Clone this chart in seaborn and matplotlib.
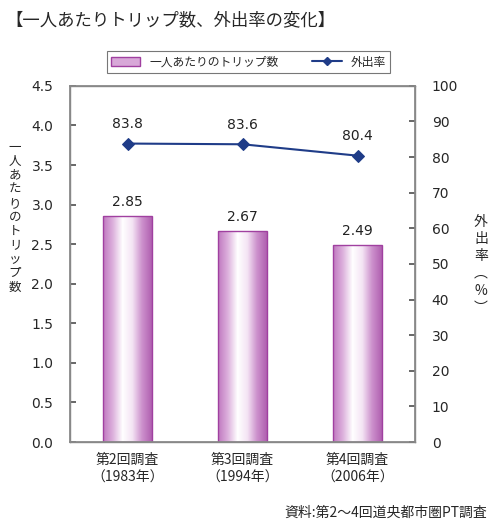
import numpy as np
import pandas as pd
import matplotlib
matplotlib.use("Agg")
import matplotlib.pyplot as plt
from matplotlib.colors import LinearSegmentedColormap
from matplotlib.lines import Line2D
from matplotlib.patches import Rectangle
import seaborn as sns

# ---------- data ----------
surveys = ["第2回調査\n（1983年）", "第3回調査\n（1994年）", "第4回調査\n（2006年）"]
trips = [2.85, 2.67, 2.49]
outing_rate = [83.8, 83.6, 80.4]

left_ticks = [0.0, 0.5, 1.0, 1.5, 2.0, 2.5, 3.0, 3.5, 4.0, 4.5]
right_ticks = [0, 10, 20, 30, 40, 50, 60, 70, 80, 90, 100]

sns.set_theme(style="white")
plt.rcParams["font.family"] = ["Noto Sans CJK JP", "DejaVu Sans"]

df = pd.DataFrame({"survey": surveys, "trips": trips, "rate": outing_rate})

fig = plt.figure(figsize=(5.0, 5.3), dpi=100)
ax = fig.add_axes([0.14, 0.166, 0.69, 0.672])

sns.barplot(data=df, x="survey", y="trips", ax=ax, width=0.42,
            color="white", edgecolor="#A040A0", linewidth=1.0, zorder=2)

# gradient fill inside each bar
cmap = LinearSegmentedColormap.from_list(
    "bar", ["#C078C0", "#DCB0DC", "#FFFFFF", "#F4E4F4", "#CC90CC", "#B060B0"])
grad = np.linspace(0, 1, 256).reshape(1, -1)
for patch in ax.patches:
    x0, y0 = patch.get_x(), patch.get_y()
    w, h = patch.get_width(), patch.get_height()
    im = ax.imshow(grad, cmap=cmap, aspect="auto", extent=[x0, x0 + w, y0, y0 + h],
                   zorder=1.5)
    im.set_clip_path(patch)
    patch.set_facecolor("none")
    patch.set_zorder(3)
    ax.text(x0 + w / 2, h + 0.09, f"{h:.2f}", ha="center", va="bottom",
            fontsize=10, color="#222222", family="DejaVu Sans")

ax.set_xlim(-0.5, 2.5)
ax.set_ylim(0, 4.5)
ax.set_yticks(left_ticks)
ax.set_yticklabels([f"{t:.1f}" for t in left_ticks], fontsize=10, family="DejaVu Sans")
ax.set_xlabel("")
ax.set_ylabel("")
ax.set_xticks([0, 1, 2])
ax.set_xticklabels(surveys, fontsize=10, linespacing=1.3)
ax.set_xticks([0.5, 1.5], minor=True)
ax.tick_params(axis="x", which="major", length=0, pad=8)
ax.tick_params(axis="x", which="minor", direction="in", length=3, color="#555555")
ax.tick_params(axis="y", direction="in", length=4, left=True, color="#555555", pad=12)
for s in ax.spines.values():
    s.set_color("#888888")
    s.set_linewidth(1.0)

ax2 = ax.twinx()
sns.lineplot(x=[0, 1, 2], y=outing_rate, ax=ax2, color="#1F3C88", marker="D",
             markersize=6, linewidth=1.5, markeredgecolor="#1F3C88")
ax2.set_ylim(0, 100)
ax2.set_yticks(right_ticks)
ax2.set_yticklabels([str(t) for t in right_ticks], fontsize=10, family="DejaVu Sans")
ax2.tick_params(axis="y", direction="in", length=4, right=True, color="#555555", pad=12)
ax2.set_ylabel("")
for s in ax2.spines.values():
    s.set_color("#888888")
for i, v in enumerate(outing_rate):
    ax2.text(i, v + 3.5, f"{v:.1f}", ha="center", va="bottom", fontsize=10,
             color="#222222", family="DejaVu Sans")

# vertical axis titles
fig.text(0.03, 0.59, "\n".join("一人あたりのトリップ数"), ha="center", va="center",
         fontsize=9, linespacing=1.1)
fig.text(0.962, 0.50, "\n".join(["外", "出", "率", "︵", "%", "︶"]), ha="center",
         va="center", fontsize=10, linespacing=1.3)

# title
fig.text(0.01, 0.962, "【一人あたりトリップ数、外出率の変化】", ha="left", va="center",
         fontsize=12.5)

# legend
handles = [Rectangle((0, 0), 1, 1, facecolor="#D8A8D8", edgecolor="#A040A0"),
           Line2D([0], [0], color="#1F3C88", marker="D", markersize=4, linewidth=1.5)]
leg = fig.legend(handles, ["一人あたりのトリップ数", "外出率"], loc="center",
                 bbox_to_anchor=(0.497, 0.883), ncol=2, fontsize=8.5, frameon=True,
                 fancybox=False, edgecolor="#555555", columnspacing=2.8,
                 handlelength=2.5, borderpad=0.35)
leg.get_frame().set_linewidth(0.8)

# source
fig.text(0.975, 0.032, "資料:第2～4回道央都市圏PT調査", ha="right", va="center",
         fontsize=10)

fig.savefig("out.png", dpi=100)
